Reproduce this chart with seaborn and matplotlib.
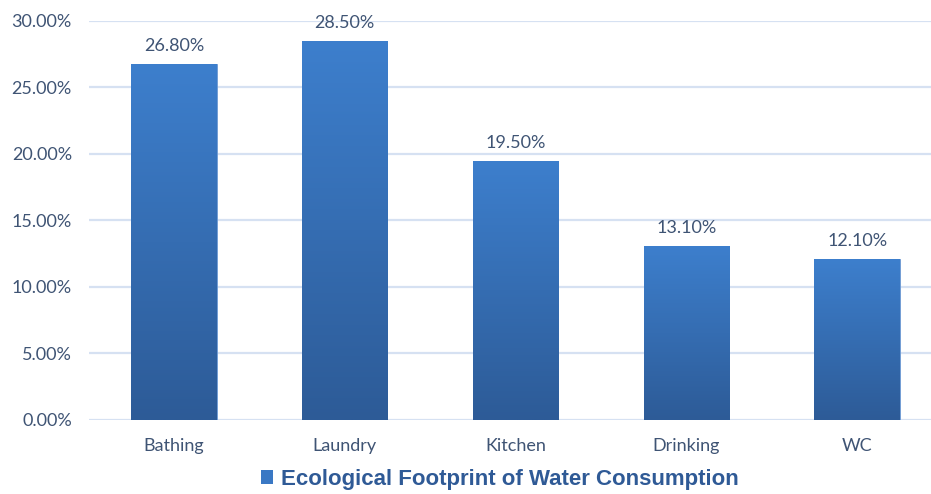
import numpy as np
import pandas as pd
import matplotlib
matplotlib.use('Agg')
import matplotlib.pyplot as plt
from matplotlib.colors import LinearSegmentedColormap
from matplotlib.patches import Patch
import seaborn as sns

# chart data
categories = ['Bathing', 'Laundry', 'Kitchen', 'Drinking', 'WC']
shares = [26.8, 28.5, 19.5, 13.1, 12.1]
series_name = 'Ecological Footprint of Water Consumption'
y_ticks = [0, 5, 10, 15, 20, 25, 30]

df = pd.DataFrame({'Category': categories, 'Share': shares})

sns.set_style('white')
plt.rcParams['font.family'] = ['Lato', 'DejaVu Sans']

text_color = '#3F5474'
grid_color = '#D6E1F2'
top_color = '#3D7FCD'
bottom_color = '#2D5B97'

fig = plt.figure(figsize=(9.31, 4.94), dpi=100)
ax = fig.add_axes([0.0951, 0.1498, 0.9173, 0.8077])

sns.barplot(x='Category', y='Share', data=df, color=top_color, width=0.5,
            ax=ax, saturation=1, zorder=3)

ax.set_ylim(0, 30)
ax.set_yticks(y_ticks)
ax.set_yticklabels([f'{t:.2f}%' for t in y_ticks])
ax.yaxis.grid(True, color=grid_color, linewidth=1.6, zorder=0)
ax.set_axisbelow(True)
for s in ax.spines.values():
    s.set_visible(False)
ax.tick_params(axis='both', length=0, labelsize=13, labelcolor=text_color)
ax.tick_params(axis='x', pad=13)
ax.tick_params(axis='y', pad=12)
ax.set_xlabel('')
ax.set_ylabel('')

# vertical gradient inside every bar
cmap = LinearSegmentedColormap.from_list('bar', [bottom_color, top_color])
grad = np.linspace(0, 1, 256).reshape(-1, 1)
for p in ax.patches:
    x0, y0 = p.get_x(), p.get_y()
    w, h = p.get_width(), p.get_height()
    im = ax.imshow(grad, cmap=cmap, aspect='auto', origin='lower',
                   extent=[x0, x0 + w, y0, y0 + h], zorder=3.5)
    im.set_clip_path(p)
    p.set_edgecolor('#6E9AD3')
    p.set_linewidth(0.6)
ax.set_xlim(-0.5, len(categories) - 0.5)
ax.set_ylim(0, 30)

ax.bar_label(ax.containers[0], labels=[f'{v:.2f}%' for v in shares],
             padding=7, color=text_color, fontsize=13)

handle = Patch(facecolor='#3A78C4', edgecolor='none')
fig.legend([handle], [series_name], loc='lower center',
           bbox_to_anchor=(500 / 931, -0.032), frameon=False,
           handlelength=0.55, handleheight=0.55, handletextpad=0.35,
           prop={'family': 'Liberation Sans', 'weight': 'bold', 'size': 16},
           labelcolor='#2F5A96')

fig.savefig('out.png', dpi=100)
